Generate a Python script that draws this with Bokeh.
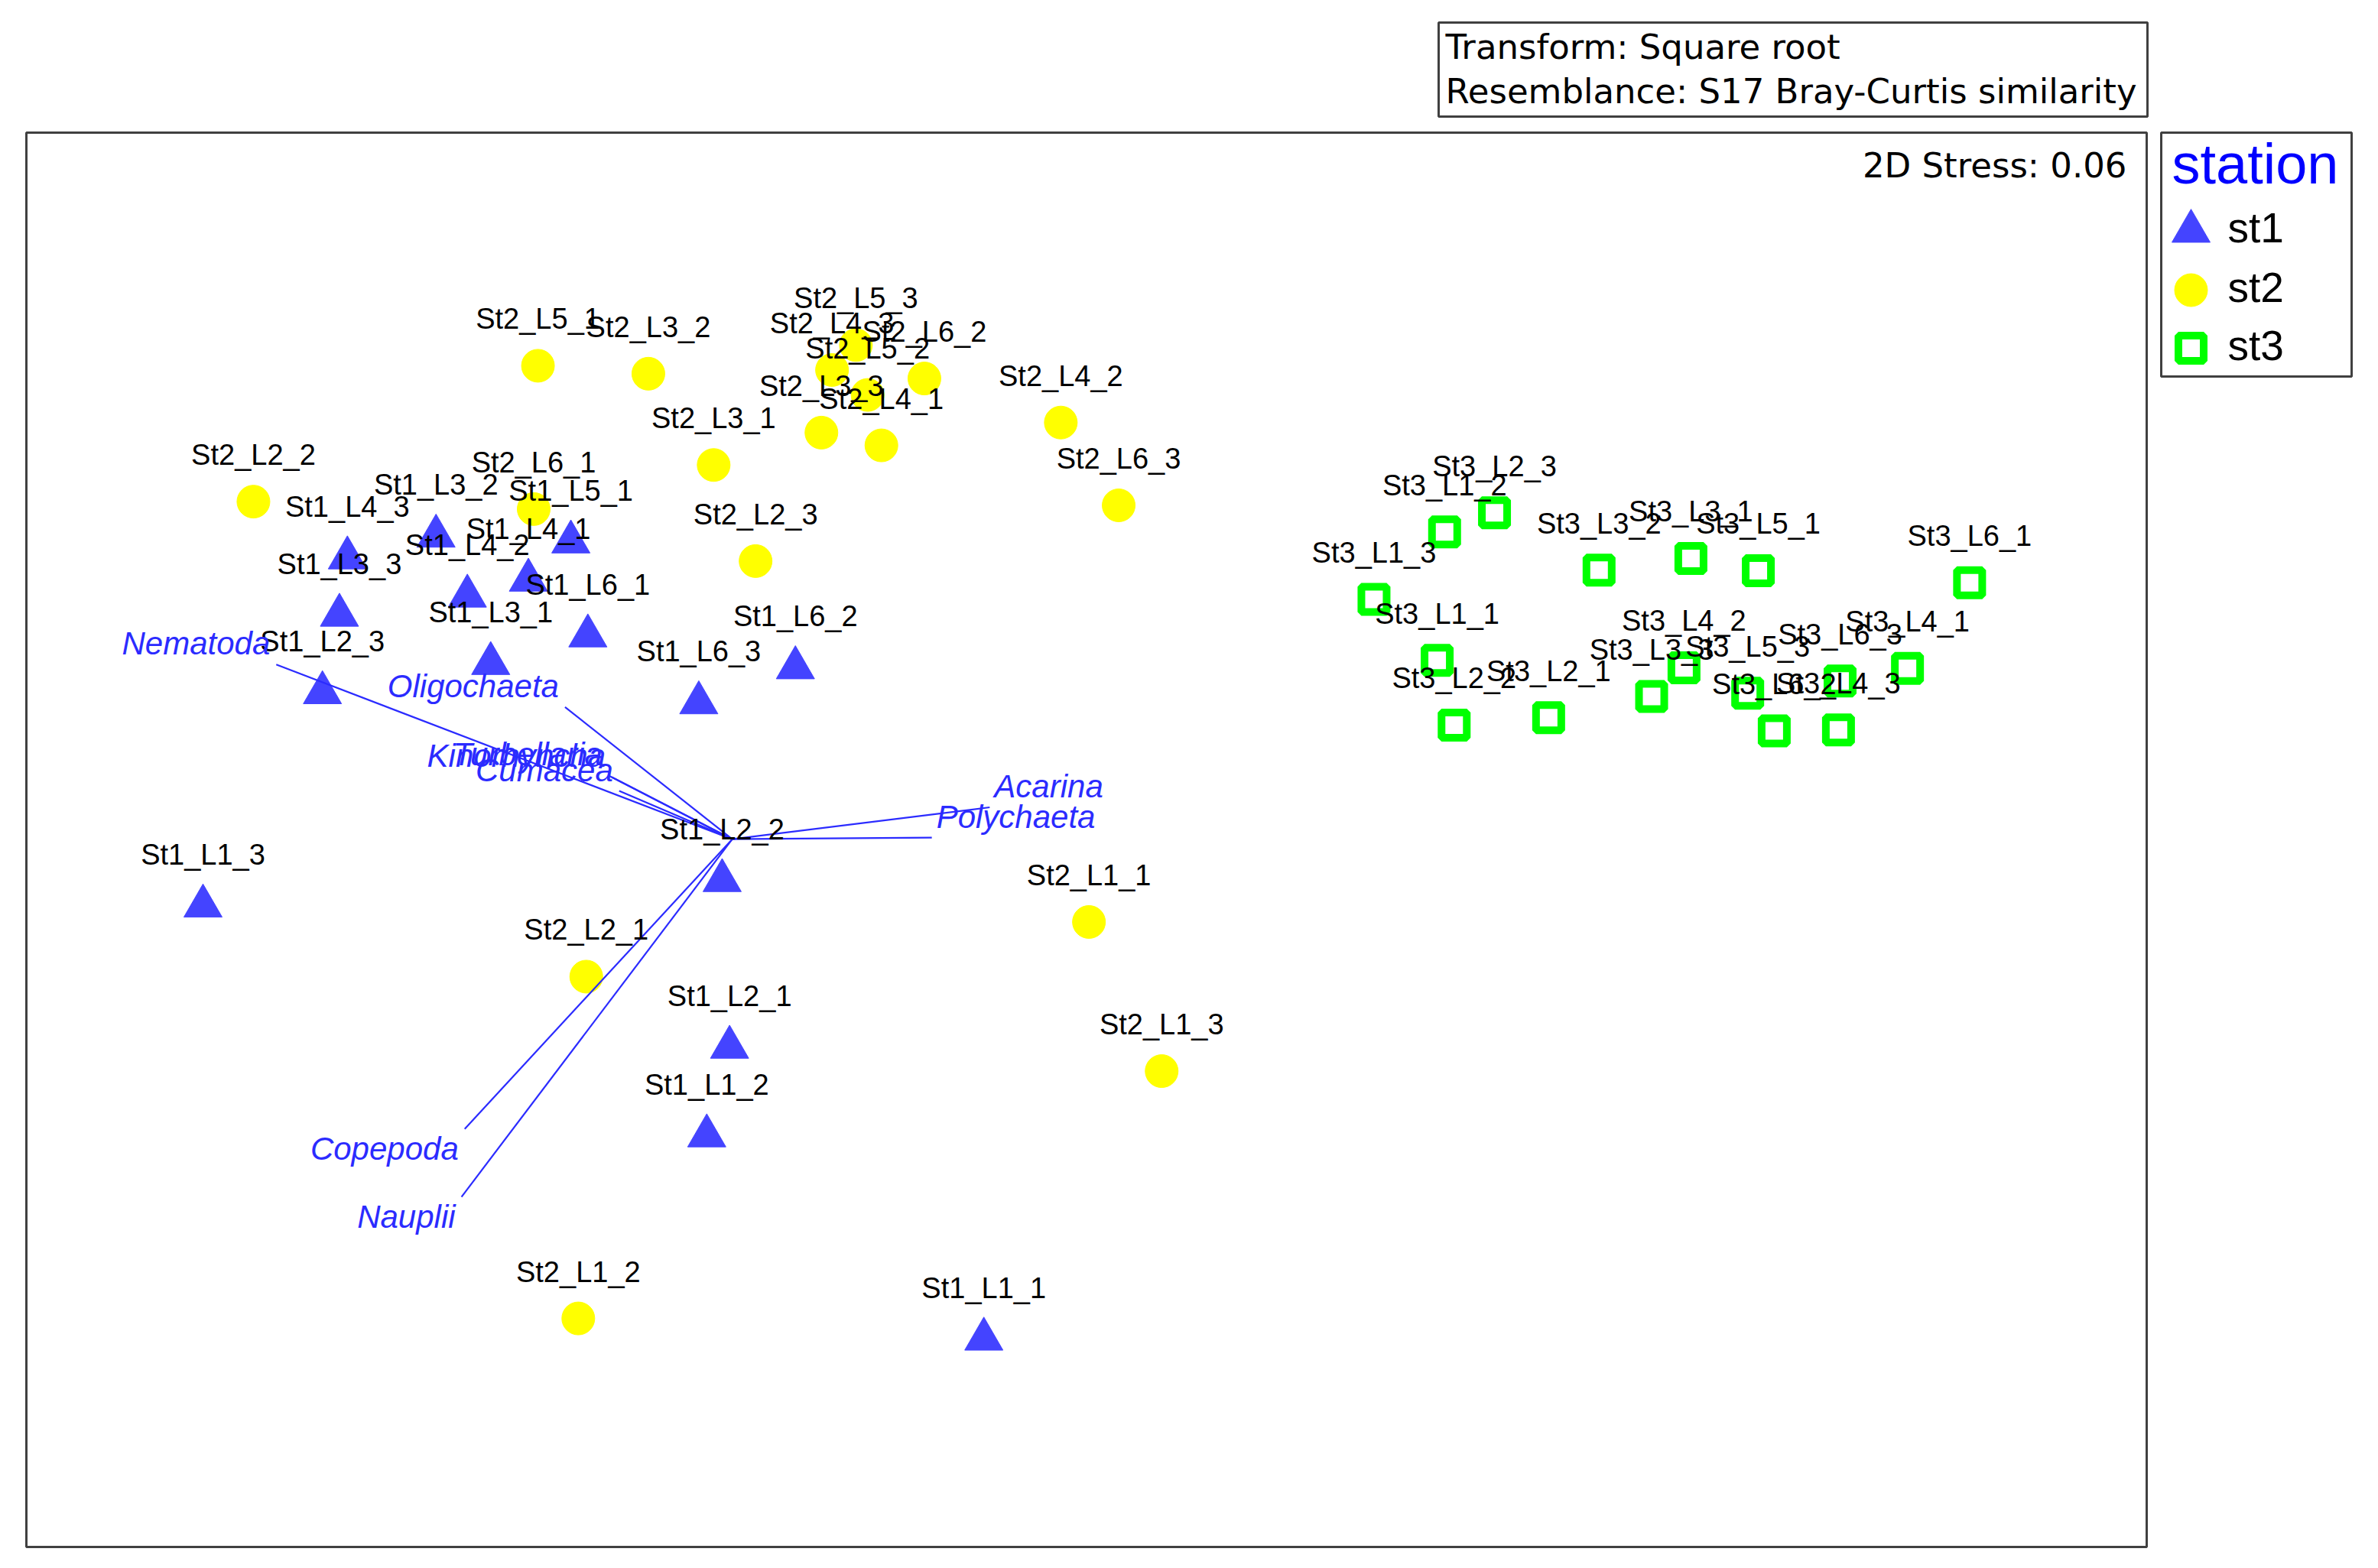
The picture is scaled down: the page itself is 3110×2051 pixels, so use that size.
from bokeh.plotting import figure
from bokeh.models import Range1d, ColumnDataSource
from bokeh.core.properties import value
from bokeh.embed import file_html
from bokeh.resources import INLINE

# ---------------- data (nMDS coordinates) ----------------
st1_names = ["St1_L1_1", "St1_L1_2", "St1_L1_3", "St1_L2_1", "St1_L2_2", "St1_L2_3",
             "St1_L3_1", "St1_L3_2", "St1_L3_3", "St1_L4_1", "St1_L4_2", "St1_L4_3",
             "St1_L5_1", "St1_L6_1", "St1_L6_2", "St1_L6_3"]
st1_x = [-0.193, -0.715, -1.664, -0.672, -0.686, -1.439,
         -1.122, -1.225, -1.407, -1.051, -1.166, -1.392,
         -0.971, -0.939, -0.548, -0.730]
st1_y = [-0.941, -0.558, -0.125, -0.391, -0.077, 0.277,
         0.332, 0.572, 0.423, 0.489, 0.459, 0.531,
         0.561, 0.384, 0.324, 0.258]

st2_names = ["St2_L1_1", "St2_L1_2", "St2_L1_3", "St2_L2_1", "St2_L2_2", "St2_L2_3",
             "St2_L3_1", "St2_L3_2", "St2_L3_3", "St2_L4_1", "St2_L4_2", "St2_L4_3",
             "St2_L5_1", "St2_L5_2", "St2_L5_3", "St2_L6_1", "St2_L6_2", "St2_L6_3"]
st2_x = [0.005, -0.957, 0.142, -0.942, -1.569, -0.623,
         -0.702, -0.825, -0.499, -0.386, -0.048, -0.479,
         -1.033, -0.412, -0.434, -1.041, -0.305, 0.061]
st2_y = [-0.155, -0.902, -0.436, -0.258, 0.637, 0.525,
         0.706, 0.878, 0.767, 0.743, 0.786, 0.885,
         0.893, 0.838, 0.932, 0.623, 0.869, 0.630]

st3_names = ["St3_L1_1", "St3_L1_2", "St3_L1_3", "St3_L2_1", "St3_L2_2", "St3_L2_3",
             "St3_L3_1", "St3_L3_2", "St3_L3_3", "St3_L4_1", "St3_L4_2", "St3_L4_3",
             "St3_L5_1", "St3_L5_3", "St3_L6_1", "St3_L6_2", "St3_L6_3"]
st3_x = [0.661, 0.675, 0.542, 0.871, 0.693, 0.769,
         1.139, 0.966, 1.065, 1.547, 1.126, 1.417,
         1.266, 1.246, 1.664, 1.296, 1.420]
st3_y = [0.338, 0.580, 0.453, 0.230, 0.216, 0.616,
         0.530, 0.508, 0.270, 0.323, 0.324, 0.207,
         0.507, 0.276, 0.484, 0.205, 0.299]

# species vectors (Pearson correlation vectors), origin and end offsets
vec_names = ["Nematoda", "Oligochaeta", "Kinorhyncha", "Turbellaria", "Cumacea",
             "Acarina", "Polychaeta", "Copepoda", "Nauplii"]
vec_dx = [-0.859, -0.315, -0.227, -0.233, -0.213, 0.485, 0.376, -0.504, -0.510]
vec_dy = [0.329, 0.249, 0.117, 0.120, 0.091, 0.060, 0.003, -0.546, -0.674]
vec_origin_x = -0.667
vec_origin_y = 0.001

stations = ["st1", "st2", "st3"]
legend_title = "station"
stress_text = "2D Stress: 0.06"
info_lines = ["Transform: Square root", "Resemblance: S17 Bray-Curtis similarity"]

# ---------------- canvas / layout ----------------
W, H = 3094, 2035
X0, X1 = -2.04571, 2.41106
Y0, Y1 = -1.34989, 1.58143
SX = W / (X1 - X0)
SY = H / (Y1 - Y0)


def fx(px):  # picture pixel -> data x (layout helper)
    return X0 + px / SX


def fy(py):  # picture pixel -> data y (layout helper)
    return Y1 - py / SY


p = figure(width=W, height=H, x_range=Range1d(X0, X1), y_range=Range1d(Y0, Y1),
           min_border=0, min_border_left=0, min_border_right=0,
           min_border_top=0, min_border_bottom=0,
           toolbar_location=None, output_backend="svg")
p.axis.visible = False
p.xgrid.visible = False
p.ygrid.visible = False
p.outline_line_color = None
p.background_fill_color = "white"
p.border_fill_color = "white"

BORDER = "#404040"
# main nMDS frame
p.quad(left=[fx(34)], right=[fx(2807)], top=[fy(173)], bottom=[fy(2023)],
       fill_color=None, line_color=BORDER, line_width=3)
# transform / resemblance box
p.quad(left=[fx(1881)], right=[fx(2808)], top=[fy(29)], bottom=[fy(152)],
       fill_color="white", line_color=BORDER, line_width=3)
# legend box
p.quad(left=[fx(2826)], right=[fx(3075)], top=[fy(173)], bottom=[fy(492)],
       fill_color="white", line_color=BORDER, line_width=3)

BLUE_TRI = "#4444FF"
YELLOW = "#FFFF00"
GREEN = "#00FF00"
VEC_COL = "#2B2BFF"
LABEL_FONT = value("Liberation Sans")

src1 = ColumnDataSource(dict(x=st1_x, y=st1_y, name=st1_names))
src2 = ColumnDataSource(dict(x=st2_x, y=st2_y, name=st2_names))
src3 = ColumnDataSource(dict(x=st3_x, y=st3_y, name=st3_names))

p.scatter("x", "y", source=src1, marker="triangle", size=50,
          fill_color=BLUE_TRI, line_color=BLUE_TRI, line_width=1)
p.scatter("x", "y", source=src2, marker="circle", size=43,
          fill_color=YELLOW, line_color=YELLOW, line_width=1)
p.scatter("x", "y", source=src3, marker="square", size=33,
          fill_color=None, line_color=GREEN, line_width=10)

# vectors
ex = [vec_origin_x + d for d in vec_dx]
ey = [vec_origin_y + d for d in vec_dy]
p.segment(x0=[vec_origin_x] * len(vec_dx), y0=[vec_origin_y] * len(vec_dy),
          x1=ex, y1=ey, line_color=VEC_COL, line_width=2.2)

# point labels
for src, yoff in ((src1, -67), (src2, -61), (src3, -61)):
    p.text("x", "y", text="name", source=src, text_align="center",
           text_baseline="alphabetic", y_offset=yoff,
           text_font=LABEL_FONT, text_font_size="38px", text_color="black")

# vector labels
for name, x, y, dx, dy in zip(vec_names, ex, ey, vec_dx, vec_dy):
    align = "right" if dx < 0 else "left"
    base = "bottom" if dy > 0 else "top"
    xo = -8 if dx < 0 else 6
    yo = -4 if dy > 0 else 2
    p.text(x=[x], y=[y], text=[name], text_align=align, text_baseline=base,
           x_offset=xo, y_offset=yo, text_font=LABEL_FONT, text_font_style="italic",
           text_font_size="42px", text_color="#2B2BFF")

# stress
p.text(x=[fx(2781)], y=[fy(216)], text=[stress_text], text_align="right",
       text_baseline="middle", text_font=value("DejaVu Sans"),
       text_font_size="45px", text_color="black")

# transform box text
p.text(x=[fx(1890), fx(1890)], y=[fy(61), fy(119)], text=info_lines,
       text_align="left", text_baseline="middle", text_font=value("DejaVu Sans"),
       text_font_size="45px", text_color="black")

# legend (drawn manually to match marker sizes)
p.text(x=[fx(2840)], y=[fy(214)], text=[legend_title], text_align="left",
       text_baseline="alphabetic", text_font=LABEL_FONT, text_font_size="74px",
       text_color="#0000FF")
p.scatter(x=[fx(2865)], y=[fy(302)], marker="triangle", size=50,
          fill_color=BLUE_TRI, line_color=BLUE_TRI)
p.scatter(x=[fx(2865)], y=[fy(379)], marker="circle", size=43,
          fill_color=YELLOW, line_color=YELLOW)
p.scatter(x=[fx(2865)], y=[fy(455)], marker="square", size=33,
          fill_color=None, line_color=GREEN, line_width=10)
p.text(x=[fx(2913)] * 3, y=[fy(297), fy(375), fy(451)], text=stations,
       text_align="left", text_baseline="alphabetic", text_font=LABEL_FONT,
       text_font_size="55px", text_color="black")

open("out.html", "w").write(file_html(p, INLINE))
